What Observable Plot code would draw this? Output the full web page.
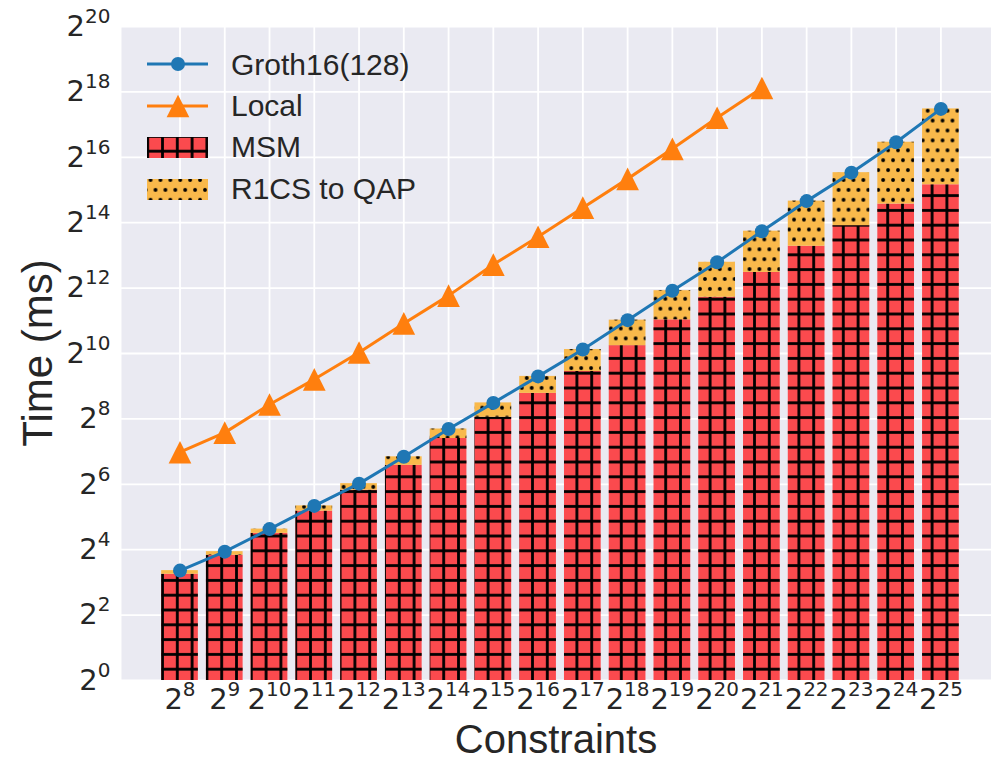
<!DOCTYPE html>
<html>
<head>
<meta charset="utf-8">
<script src="https://cdn.jsdelivr.net/npm/d3@7"></script>
<script src="https://cdn.jsdelivr.net/npm/@observablehq/plot@0.6"></script>
<style>
  html, body { margin: 0; padding: 0; background: #ffffff; }
  #chart svg { display: block; }
</style>
</head>
<body>
<div id="chart"></div>
<script>
// ---------- data (times in ms) ----------
const exponents = [8, 9, 10, 11, 12, 13, 14, 15, 16, 17, 18, 19, 20, 21, 22, 23, 24, 25];
const msmMs = [9.51, 14.22, 22.63, 36.25, 56.5, 95.7, 168.9, 265.0, 439.6, 699.4, 1209, 2091, 3373, 5713, 9947, 15393, 24322, 36610];
const r1csMs = [0.76, 1.13, 2.13, 4.25, 8.4, 18.9, 37.6, 94.5, 190.7, 414, 868, 1784, 3709, 7969, 15941, 31921, 65823, 146196];
const groth16Ms = [10.27, 15.35, 24.76, 40.5, 64.9, 114.6, 206.5, 359.5, 630.3, 1113, 2077, 3875, 7082, 13682, 25888, 47314, 90145, 182806];
const localExponents = [8, 9, 10, 11, 12, 13, 14, 15, 16, 17, 18, 19, 20, 21];
const localMs = [126.3, 191.3, 347.3, 592.2, 1045.5, 1937.5, 3492, 6747, 12161, 22536, 41478, 78479, 151600, 284870];
const yTickExponents = [0, 2, 4, 6, 8, 10, 12, 14, 16, 18, 20];
const seriesNames = ["Groth16(128)", "Local", "MSM", "R1CS to QAP"];
const xTitle = "Constraints";
const yTitle = "Time (ms)";

// ---------- styling ----------
const colors = { groth: "#1f77b4", local: "#ff7f0e", msm: "#fb4a4e", r1cs: "#f9b94b", bg: "#eaeaf2", text: "#262626" };
const barHalf = 0.41;

const bars = exponents.map((e, i) => ({ e, msm: msmMs[i], total: msmMs[i] + r1csMs[i] }));
const groth = exponents.map((e, i) => ({ e, v: groth16Ms[i] }));
const local = localExponents.map((e, i) => ({ e, v: localMs[i] }));
const yTicks = yTickExponents.map(k => 2 ** k);

// matplotlib-like '^' marker (centered on its bounding box)
const triangleUp = {
  draw(ctx, size) {
    const r = Math.sqrt(size / Math.PI);
    ctx.moveTo(0, -r);
    ctx.lineTo(r, r);
    ctx.lineTo(-r, r);
    ctx.closePath();
  }
};

const svg = Plot.plot({
  width: 991,
  height: 761,
  marginLeft: 121,
  marginRight: 0,
  marginTop: 26,
  marginBottom: 81,
  style: { fontFamily: "DejaVu Sans", fontSize: "29px", color: colors.text, background: "#ffffff" },
  x: { type: "linear", domain: [6.693, 26.13] },
  y: { type: "log", base: 2, domain: [1, 2 ** 20] },
  marks: [
    Plot.frame({ fill: colors.bg, stroke: "none" }),
    Plot.gridY(yTicks, { stroke: "#ffffff", strokeOpacity: 1, strokeWidth: 1.8 }),
    Plot.gridX(exponents, { stroke: "#ffffff", strokeOpacity: 1, strokeWidth: 1.8 }),
    Plot.rect(bars, { x1: d => d.e - barHalf, x2: d => d.e + barHalf, y1: d => 1, y2: "msm", fill: colors.msm }),
    Plot.rect(bars, { x1: d => d.e - barHalf, x2: d => d.e + barHalf, y1: d => 1, y2: "msm", fill: "url(#msmHatch)" }),
    Plot.rect(bars, { x1: d => d.e - barHalf, x2: d => d.e + barHalf, y1: "msm", y2: "total", fill: colors.r1cs }),
    Plot.rect(bars, { x1: d => d.e - barHalf, x2: d => d.e + barHalf, y1: "msm", y2: "total", fill: "url(#dotHatch)" }),
    Plot.line(groth, { x: "e", y: "v", stroke: colors.groth, strokeWidth: 3 }),
    Plot.dot(groth, { x: "e", y: "v", r: 7, fill: colors.groth, stroke: "none" }),
    Plot.line(local, { x: "e", y: "v", stroke: colors.local, strokeWidth: 3 }),
    Plot.dot(local, { x: "e", y: "v", r: 11.35, symbol: triangleUp, fill: colors.local, stroke: "none" }),
    Plot.axisY(yTicks, { tickSize: 0, tickPadding: 11, label: null, tickFormat: d => String(Math.round(Math.log2(d))) }),
    Plot.axisX(exponents, { tickSize: 0, tickPadding: 8.4, label: null, tickFormat: d => String(d) })
  ]
});

document.getElementById("chart").appendChild(svg);

const s = d3.select(svg);
const defs = s.insert("defs", ":first-child");
const pg = defs.append("pattern").attr("id", "msmHatch").attr("patternUnits", "userSpaceOnUse")
  .attr("x", 7.1).attr("y", 10.6).attr("width", 14.8).attr("height", 14.8);
pg.append("line").attr("x1", 7.4).attr("x2", 7.4).attr("y1", 0).attr("y2", 14.8).attr("stroke", "#000").attr("stroke-width", 2.8);
pg.append("line").attr("x1", 0).attr("x2", 14.8).attr("y1", 7.4).attr("y2", 7.4).attr("stroke", "#000").attr("stroke-width", 2.8);
const pd = defs.append("pattern").attr("id", "dotHatch").attr("patternUnits", "userSpaceOnUse")
  .attr("x", 7.0).attr("y", 11.7).attr("width", 9.9).attr("height", 19.8);
[[0, 0], [9.9, 0], [0, 19.8], [9.9, 19.8], [4.95, 9.9]].forEach(([cx, cy]) =>
  pd.append("circle").attr("cx", cx).attr("cy", cy).attr("r", 1.9).attr("fill", "#000"));

// superscript tick labels: 2^k
function superscript(selector, supDy) {
  s.selectAll(selector).each(function () {
    const t = d3.select(this);
    const exp = t.text();
    t.text("");
    t.append("tspan").text("2");
    t.append("tspan").attr("font-size", "20px").attr("dy", supDy).text(exp);
  });
}
superscript('g[aria-label="y-axis tick label"] text', -13);
superscript('g[aria-label="x-axis tick label"] text', -13);

// axis titles
s.append("text").attr("x", 556).attr("y", 752.5).attr("text-anchor", "middle")
  .attr("font-family", "Liberation Sans, Arial, sans-serif").attr("font-size", 40).attr("fill", colors.text).text(xTitle);
s.append("text").attr("transform", "translate(52,353) rotate(-90)").attr("text-anchor", "middle")
  .attr("font-family", "Liberation Sans, Arial, sans-serif").attr("font-size", 42).attr("fill", colors.text).text(yTitle);

// legend
const lg = s.append("g").attr("font-family", "Liberation Sans, Arial, sans-serif").attr("font-size", 30)
  .attr("fill", colors.text).attr("text-anchor", "start");
lg.append("line").attr("x1", 147).attr("x2", 208).attr("y1", 64).attr("y2", 64).attr("stroke", colors.groth).attr("stroke-width", 3);
lg.append("circle").attr("cx", 178).attr("cy", 64).attr("r", 7).attr("fill", colors.groth);
lg.append("line").attr("x1", 147).attr("x2", 208).attr("y1", 106).attr("y2", 106).attr("stroke", colors.local).attr("stroke-width", 3);
lg.append("path").attr("d", "M178,94.65L189.35,117.35L166.65,117.35Z").attr("fill", colors.local);
lg.append("rect").attr("x", 147).attr("y", 137).attr("width", 61).attr("height", 21).attr("fill", colors.msm);
lg.append("rect").attr("x", 147).attr("y", 137).attr("width", 61).attr("height", 21).attr("fill", "url(#msmHatch)");
lg.append("rect").attr("x", 147).attr("y", 179).attr("width", 61).attr("height", 21).attr("fill", colors.r1cs);
lg.append("rect").attr("x", 147).attr("y", 179).attr("width", 61).attr("height", 21).attr("fill", "url(#dotHatch)");
const baselines = [75, 116, 157, 199];
seriesNames.forEach((name, i) => lg.append("text").attr("x", 231).attr("y", baselines[i]).attr("text-anchor", "start").text(name));
</script>
</body>
</html>
